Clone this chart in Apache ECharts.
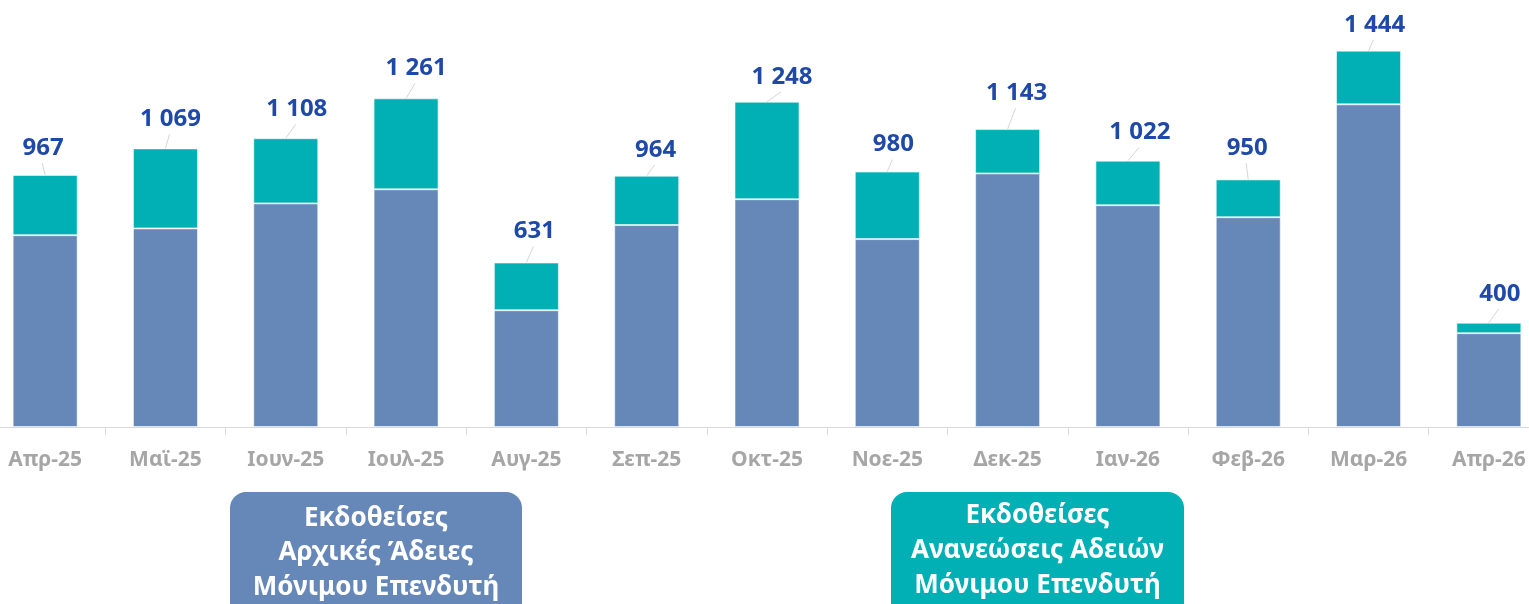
<!DOCTYPE html>
<html lang="el">
<head>
<meta charset="utf-8">
<title>Εκδοθείσες Άδειες Μόνιμου Επενδυτή</title>
<script src="https://cdn.jsdelivr.net/npm/echarts@6/dist/echarts.min.js"></script>
<style>
  html, body { margin: 0; padding: 0; background: #ffffff; overflow: hidden; width: 1529px; height: 604px; }
  /* The plot runs slightly past both window edges, so the canvas is wider and shifted left */
  #chart { position: absolute; left: -15px; top: 0; width: 1564px; height: 604px; }
</style>
</head>
<body>
<div id="chart"></div>
<script>
// Months shown on the category axis
const months = ['Απρ-25', 'Μαϊ-25', 'Ιουν-25', 'Ιουλ-25', 'Αυγ-25', 'Σεπ-25', 'Οκτ-25',
                'Νοε-25', 'Δεκ-25', 'Ιαν-26', 'Φεβ-26', 'Μαρ-26', 'Απρ-26'];

// Initial permits issued per month (lower segment)
const initialPermits = [736, 762, 858, 912, 448, 775, 874, 721, 973, 851, 805, 1238, 360];

// Permit renewals issued per month (upper segment)
const renewals = [231, 307, 250, 349, 183, 189, 374, 259, 170, 171, 145, 206, 40];

// Total labels are the sum of both segments
const totals = initialPermits.map((v, i) => v + renewals[i]);

// Per-month placement of the total label: [shift right, lift above bar top] in px
const labelNudge = [[-2, 28], [5, 30], [11, 30], [10, 31], [8, 32], [9, 27], [15, 26],
                    [6, 28], [9, 37], [12, 29], [-1, 32], [6, 27], [11, 30]];

const BLUE = '#6688b8';
const TEAL = '#00b0b4';
const LABEL_BLUE = '#1f49a8';
const FONT = '"Noto Sans", "Open Sans", sans-serif';
const SHIFT = 15; // canvas offset from the window's left edge

function formatTotal(v) {
  if (v < 1000) return String(v);
  return Math.floor(v / 1000) + ' ' + String(v % 1000).padStart(3, '0');
}

const chart = echarts.init(document.getElementById('chart'), null, { renderer: 'canvas' });

chart.setOption({
  animation: false,
  backgroundColor: '#ffffff',
  grid: { left: 0, right: 0, top: 10, bottom: 177, containLabel: false },
  xAxis: {
    type: 'category',
    data: months,
    axisLine: { show: true, lineStyle: { color: '#d9d9d9', width: 1 } },
    axisTick: { show: true, length: 8, lineStyle: { color: '#d9d9d9' } },
    axisLabel: {
      color: '#a6a6a6',
      fontFamily: FONT,
      fontWeight: 'bold',
      fontSize: 21,
      margin: 23,
      interval: 0
    }
  },
  yAxis: {
    type: 'value',
    min: 0,
    max: 1600,
    show: false,
    splitLine: { show: false }
  },
  series: [
    {
      name: 'Αρχικές Άδειες',
      type: 'bar',
      stack: 'permits',
      barWidth: 65,
      data: initialPermits,
      itemStyle: { color: BLUE, borderColor: 'rgba(255,255,255,0.55)', borderWidth: 1 },
      silent: true
    },
    {
      name: 'Ανανεώσεις Αδειών',
      type: 'bar',
      stack: 'permits',
      barWidth: 65,
      data: renewals,
      itemStyle: { color: TEAL, borderColor: 'rgba(255,255,255,0.55)', borderWidth: 1 },
      silent: true
    },
    {
      // Total above each bar with a short leader line
      name: 'Σύνολο',
      type: 'custom',
      z: 5,
      silent: true,
      data: totals.map((v, i) => [i, v]),
      renderItem: function (params, api) {
        const idx = params.dataIndex;
        const top = api.coord([api.value(0), api.value(1)]);
        const nudge = labelNudge[idx];
        const lx = top[0] + nudge[0];
        const ly = top[1] - nudge[1];
        return {
          type: 'group',
          children: [
            {
              type: 'line',
              shape: { x1: top[0], y1: top[1], x2: lx - 1, y2: ly + 16 },
              style: { stroke: '#d6d6d6', lineWidth: 1 }
            },
            {
              type: 'text',
              x: lx,
              y: ly + 1,
              style: {
                text: formatTotal(api.value(1)),
                fill: LABEL_BLUE,
                fontFamily: FONT,
                fontWeight: 'bold',
                fontSize: 24,
                align: 'center',
                verticalAlign: 'middle'
              }
            }
          ]
        };
      }
    }
  ],
  graphic: [
    {
      type: 'rect',
      shape: { x: 230 + SHIFT, y: 492, width: 292, height: 140, r: 16 },
      style: { fill: BLUE }
    },
    {
      type: 'text',
      x: 376 + SHIFT,
      y: 501,
      style: {
        text: 'Εκδοθείσες\nΑρχικές Άδειες\nΜόνιμου Επενδυτή',
        fill: '#ffffff',
        fontFamily: FONT,
        fontWeight: 'bold',
        fontSize: 26,
        lineHeight: 34.5,
        align: 'center',
        verticalAlign: 'top'
      }
    },
    {
      type: 'rect',
      shape: { x: 891 + SHIFT, y: 492, width: 293, height: 140, r: 16 },
      style: { fill: TEAL }
    },
    {
      type: 'text',
      x: 1037.5 + SHIFT,
      y: 498,
      style: {
        text: 'Εκδοθείσες\nΑνανεώσεις Αδειών\nΜόνιμου Επενδυτή',
        fill: '#ffffff',
        fontFamily: FONT,
        fontWeight: 'bold',
        fontSize: 26,
        lineHeight: 35,
        align: 'center',
        verticalAlign: 'top'
      }
    }
  ]
});
</script>
</body>
</html>
